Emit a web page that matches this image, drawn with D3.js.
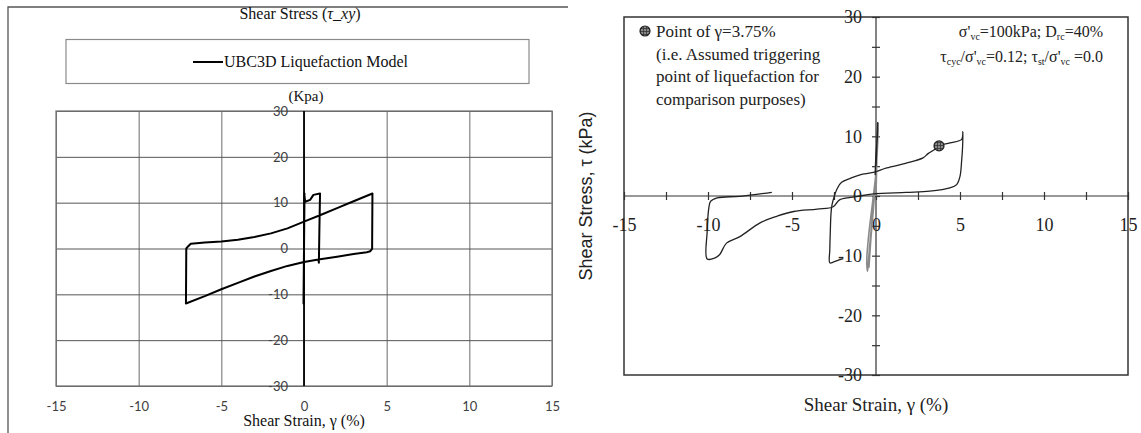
<!DOCTYPE html>
<html>
<head>
<meta charset="utf-8">
<script src="https://cdn.jsdelivr.net/npm/d3@7"></script>
<style>
  html, body { margin: 0; padding: 0; background: #fff; }
  svg { display: block; }
</style>
</head>
<body>
<svg id="chart" width="1141" height="433"></svg>
<script>
// ---- Left panel: UBC3D model, shear stress vs shear strain ----
const ubcStrain = [0, 0.03, -0.03, 0.03, -0.03, 0.03, 0.07, 0.37, 0.57, 0.97, 0.93, 0.9, 0.87,
  0, -1, -2, -3, -4, -5, -6, -7.14, -7.12, -7.0, -6.85, -6.5, -6, -5, -4, -3, -2, -1, 0, 1, 2, 3, 4.14,
  4.12, 4.0, 3.8, 3, 2, 0.87];
const ubcStress = [0, 12, -12, 11.8, -11.8, 11.5, 10.2, 10.6, 11.7, 12.0, 4.0, -3.1, -2.4,
  -2.95, -3.8, -4.9, -6.1, -7.5, -8.9, -10.4, -12.0, 0, 0.5, 1.05, 1.15, 1.3, 1.55, 1.9, 2.5, 3.3, 4.4, 5.85, 7.3, 8.8, 10.3, 12.0,
  -0.1, -0.6, -0.8, -1.2, -1.8, -2.4];
const leftXTicks = [-15, -10, -5, 0, 5, 10, 15];
const leftYTicks = [-30, -20, -10, 0, 10, 20, 30];

// ---- Right panel: laboratory test, D_rc = 40% ----
const cycStrain = [0, 0.05, 0.12, 0.08, -0.05, -0.2, -0.35, -0.45, -0.5, -0.55, -0.45, -0.2, 0, 0.1, 0.12, 0.02, -0.15, -0.3, -0.42];
const cycStress = [0, 6, 12.3, 8, 2, -3, -7.5, -11, -12.6, -11, -7, -1, 4, 9, 11.5, 5, -2, -7, -12];
const spikeStrain = [-0.05, 0.0, 0.08, 0.1, 0.05, 0.0];
const spikeStress = [3.5, 7, 10, 12.3, 9, 5];
const labStrain = [-1.95, -2.2, -2.55, -2.75, -2.75, -2.72, -2.68, -2.62, -2.5, -2.3, -2.05, -1.5, -0.95, -0.16,
  0.64, 1.8, 2.8, 3.1, 3.6, 3.75, 4.4, 5.1, 5.17, 5.15, 5.1, 5.0, 4.8, 4.4, 3.2, 1.8, -0.16, -1.15, -2.15,
  -2.55, -3.5, -4.9, -5.9, -6.9, -8.1, -8.9, -9.3, -9.6, -10.05, -10.05, -9.95, -9.85, -9.45, -8.1, -6.2];
const labStress = [-10.5, -10.7, -11.1, -11.2, -9, -6, -3, -1.5, -0.2, 1.3, 2.3, 3.0, 3.55, 3.95,
  4.7, 5.5, 6.4, 7.1, 8.0, 8.4, 8.9, 9.5, 10.8, 8, 6, 3.3, 1.9, 1.35, 0.8, 0.6, 0.35, -0.1, -0.6,
  -1.8, -2.2, -2.6, -3.4, -4.5, -6.8, -7.9, -9.8, -10.4, -10.55, -6, -2, -0.9, -0.3, -0.05, 0.6];
const triggerStrain = 3.75, triggerStress = 8.4;
const rightXLabels = [-15, -10, -5, 0, 5, 10, 15];
const rightXMinor = d3.range(-15, 15.01, 2.5);
const rightYLabels = [-30, -20, -10, 0, 10, 20, 30];
const rightYMinor = d3.range(-30, 30.01, 5);

const svg = d3.select("#chart");
svg.append("rect").attr("width", 1141).attr("height", 433).attr("fill", "#fff");

const serif = "'Liberation Serif', 'Times New Roman', serif";
const sans = "Lato, 'Liberation Sans', sans-serif";
const plain = d => String(d);   // hyphen-minus, as printed on the axes

// ================= Left panel =================
const L = svg.append("g");
// outer chart frame (top and left edges)
L.append("path").attr("d", "M8,433 V7 H568").attr("fill", "none").attr("stroke", "#555").attr("stroke-width", 1.3);

L.append("text").attr("x", 300).attr("y", 19).attr("text-anchor", "middle")
  .attr("font-family", serif).attr("font-size", 16).attr("fill", "#111")
  .call(t => {
    t.append("tspan").text("Shear Stress (");
    t.append("tspan").attr("font-style", "italic").text("τ_xy");
    t.append("tspan").text(")");
  });

// legend
L.append("rect").attr("x", 66).attr("y", 39.5).attr("width", 463).attr("height", 44)
  .attr("fill", "none").attr("stroke", "#8a8a8a").attr("stroke-width", 1.2);
L.append("line").attr("x1", 193).attr("x2", 223).attr("y1", 62).attr("y2", 62)
  .attr("stroke", "#000").attr("stroke-width", 2);
L.append("text").attr("x", 224).attr("y", 67).attr("font-family", serif).attr("font-size", 16)
  .attr("fill", "#111").text("UBC3D Liquefaction Model");

L.append("text").attr("x", 306).attr("y", 101).attr("text-anchor", "middle")
  .attr("font-family", serif).attr("font-size", 15).attr("fill", "#111").text("(Kpa)");

const xL = d3.scaleLinear().domain([-15, 15]).range([56, 552]);
const yL = d3.scaleLinear().domain([-30, 30]).range([386, 111]);

// gridlines
L.append("g").attr("transform", `translate(0,${yL(-30)})`)
  .call(d3.axisBottom(xL).tickValues(leftXTicks).tickSize(-(yL(-30) - yL(30))).tickFormat(""))
  .call(g => g.select(".domain").remove())
  .call(g => g.selectAll("line").attr("stroke", "#6a6a6a").attr("stroke-width", 1));
L.append("g").attr("transform", `translate(${xL(-15)},0)`)
  .call(d3.axisLeft(yL).tickValues(leftYTicks).tickSize(-(xL(15) - xL(-15))).tickFormat(""))
  .call(g => g.select(".domain").remove())
  .call(g => g.selectAll("line").attr("stroke", "#555").attr("stroke-width", 1));
L.append("rect").attr("x", xL(-15)).attr("y", yL(30)).attr("width", xL(15) - xL(-15)).attr("height", yL(-30) - yL(30))
  .attr("fill", "none").attr("stroke", "#7a7a7a").attr("stroke-width", 1.3);
// vertical zero axis
L.append("line").attr("x1", xL(0)).attr("x2", xL(0)).attr("y1", yL(30)).attr("y2", yL(-30))
  .attr("stroke", "#000").attr("stroke-width", 1.8);

// tick labels
L.append("g").attr("transform", `translate(0,${yL(-30)})`)
  .call(d3.axisBottom(xL).tickValues(leftXTicks).tickSize(0).tickPadding(16).tickFormat(plain))
  .call(g => g.select(".domain").remove())
  .call(g => g.selectAll("text").attr("font-family", sans).attr("font-size", 13).attr("fill", "#404040"));
L.append("g").attr("transform", `translate(${xL(0)},0)`)
  .call(d3.axisLeft(yL).tickValues(leftYTicks).tickSize(0).tickPadding(16).tickFormat(plain))
  .call(g => g.select(".domain").remove())
  .call(g => g.selectAll("text").attr("font-family", sans).attr("font-size", 13).attr("fill", "#404040"));

L.append("text").attr("x", 304).attr("y", 426).attr("text-anchor", "middle")
  .attr("font-family", serif).attr("font-size", 16).attr("fill", "#111").text("Shear Strain, γ (%)");

const lineL = d3.line().x(d => xL(d[0])).y(d => yL(d[1]));
L.append("path").datum(d3.zip(ubcStrain, ubcStress)).attr("d", lineL)
  .attr("fill", "none").attr("stroke", "#000").attr("stroke-width", 2).attr("stroke-linejoin", "round");

// ================= Right panel =================
const R = svg.append("g");
const xR = d3.scaleLinear().domain([-15, 15]).range([624, 1128]);
const yR = d3.scaleLinear().domain([-30, 30]).range([375, 17]);

R.append("rect").attr("x", xR(-15)).attr("y", yR(30)).attr("width", xR(15) - xR(-15)).attr("height", yR(-30) - yR(30))
  .attr("fill", "none").attr("stroke", "#333").attr("stroke-width", 1.5);

// axes through the origin
R.append("line").attr("x1", xR(-15)).attr("x2", xR(15)).attr("y1", yR(0)).attr("y2", yR(0))
  .attr("stroke", "#333").attr("stroke-width", 1.2);
R.append("line").attr("x1", xR(0)).attr("x2", xR(0)).attr("y1", yR(30)).attr("y2", yR(-30))
  .attr("stroke", "#333").attr("stroke-width", 1.2);

const tickStyle = g => g.call(s => s.select(".domain").remove())
  .call(s => s.selectAll("line").attr("stroke", "#333").attr("stroke-width", 1.2));
R.append("g").attr("transform", `translate(0,${yR(0)})`).call(d3.axisBottom(xR).tickValues(rightXMinor).tickSize(4).tickFormat("")).call(tickStyle);
R.append("g").attr("transform", `translate(0,${yR(0)})`).call(d3.axisTop(xR).tickValues(rightXMinor).tickSize(4).tickFormat("")).call(tickStyle);
R.append("g").attr("transform", `translate(${xR(0)},0)`).call(d3.axisLeft(yR).tickValues(rightYMinor).tickSize(4).tickFormat("")).call(tickStyle);
R.append("g").attr("transform", `translate(${xR(0)},0)`).call(d3.axisRight(yR).tickValues(rightYMinor).tickSize(4).tickFormat("")).call(tickStyle);

R.append("g").attr("transform", `translate(0,${yR(0)})`)
  .call(d3.axisBottom(xR).tickValues(rightXLabels).tickSize(0).tickPadding(22).tickFormat(plain))
  .call(g => g.select(".domain").remove())
  .call(g => g.selectAll("text").attr("font-family", serif).attr("font-size", 18).attr("fill", "#222"));
R.append("g").attr("transform", `translate(${xR(0)},0)`)
  .call(d3.axisLeft(yR).tickValues(rightYLabels).tickSize(0).tickPadding(14).tickFormat(plain))
  .call(g => g.select(".domain").remove())
  .call(g => g.selectAll("text").attr("font-family", serif).attr("font-size", 18).attr("fill", "#222"));

R.append("text").attr("transform", "translate(592,196) rotate(-90)").attr("text-anchor", "middle")
  .attr("font-family", "'Liberation Sans', Arial, sans-serif").attr("font-size", 18).attr("fill", "#222")
  .text("Shear Stress, τ (kPa)");
R.append("text").attr("x", xR(0)).attr("y", 411).attr("text-anchor", "middle")
  .attr("font-family", serif).attr("font-size", 19).attr("fill", "#222").text("Shear Strain, γ (%)");

// curves
const lineR = d3.line().x(d => xR(d[0])).y(d => yR(d[1])).curve(d3.curveCatmullRom.alpha(0.5));
R.append("path").datum(d3.zip(cycStrain, cycStress)).attr("d", lineR)
  .attr("fill", "none").attr("stroke", "#8a8a8a").attr("stroke-width", 1.6).attr("stroke-linejoin", "round");
R.append("path").datum(d3.zip(spikeStrain, spikeStress)).attr("d", lineR)
  .attr("fill", "none").attr("stroke", "#222").attr("stroke-width", 1.4).attr("stroke-linejoin", "round");
R.append("path").datum(d3.zip(labStrain, labStress)).attr("d", lineR)
  .attr("fill", "none").attr("stroke", "#222").attr("stroke-width", 1.3).attr("stroke-linejoin", "round");

// hatched marker used for the triggering point
const defs = svg.append("defs");
const pat = defs.append("pattern").attr("id", "hatch").attr("patternUnits", "userSpaceOnUse")
  .attr("width", 3).attr("height", 3);
pat.append("rect").attr("width", 3).attr("height", 3).attr("fill", "#8a8a8a");
pat.append("path").attr("d", "M0,1.5 H3 M1.5,0 V3").attr("stroke", "#333").attr("stroke-width", 0.8);
function marker(sel, cx, cy) {
  sel.append("circle").attr("cx", cx).attr("cy", cy).attr("r", 5)
    .attr("fill", "url(#hatch)").attr("stroke", "#222").attr("stroke-width", 1.2);
}
marker(R, xR(triggerStrain), yR(triggerStress));
marker(R, 645, 31);

const note = R.append("text").attr("font-family", serif).attr("font-size", 17).attr("fill", "#222");
["Point of γ=3.75%", "(i.e. Assumed triggering", "point of liquefaction for", "comparison purposes)"]
  .forEach((s, i) => note.append("tspan").attr("x", 656).attr("y", 37 + i * 22.7).text(s));

const cond = R.append("g").attr("font-family", serif).attr("font-size", 16).attr("fill", "#222");
function richLine(y, parts) {
  const t = cond.append("text").attr("x", 1103).attr("y", y).attr("text-anchor", "end");
  let lowered = false;
  parts.forEach(([s, sub]) => {
    const span = t.append("tspan").text(s);
    if (sub) { span.attr("font-size", 10).attr("dy", lowered ? 0 : 3); lowered = true; }
    else { span.attr("dy", lowered ? -3 : 0); lowered = false; }
  });
}
richLine(37, [["σ'"], ["vc", 1], ["=100kPa; D"], ["rc", 1], ["=40%"]]);
richLine(62, [["τ"], ["cyc", 1], ["/σ'"], ["vc", 1], ["=0.12; τ"], ["st", 1], ["/σ'"], ["vc", 1], [" =0.0"]]);
</script>
</body>
</html>
